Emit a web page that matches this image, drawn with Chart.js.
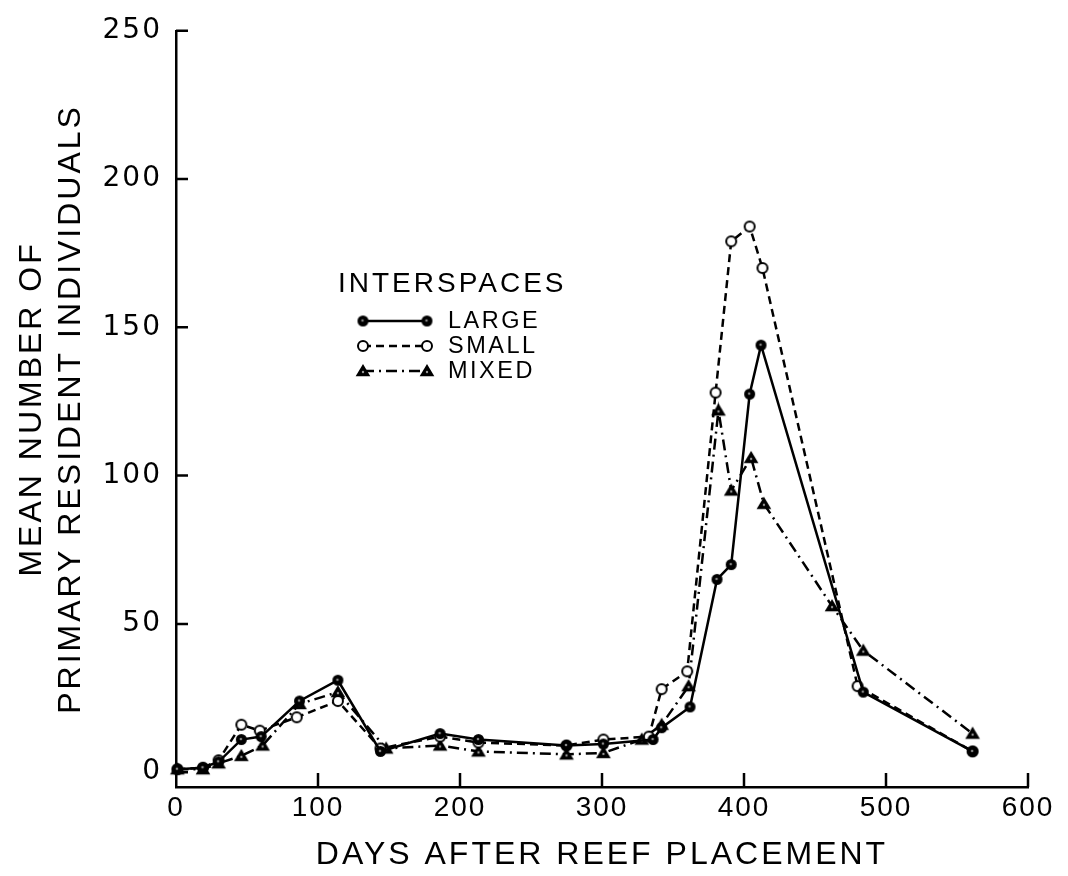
<!DOCTYPE html>
<html><head><meta charset="utf-8">
<script src="https://cdn.jsdelivr.net/npm/chart.js@4/dist/chart.umd.min.js"></script>
<style>html,body{margin:0;padding:0;background:#fff;}canvas{display:block}</style>
</head><body>
<canvas id="c" width="1068" height="876"></canvas>
<script>
// ---- data ----
const xTicks = [0, 100, 200, 300, 400, 500, 600];
const yTicks = [0, 50, 100, 150, 200, 250];

const largeDays   = [1, 19, 30, 46, 60, 87, 114, 144, 186, 213, 275, 301, 336, 342, 362, 381, 391, 404, 412, 484, 561];
const largeValues = [1, 1.5, 3.5, 11, 12, 24, 31, 7, 13, 11, 9, 9.5, 11, 15, 22, 65, 70, 127.5, 144, 27, 7];

const smallDays   = [1, 19, 30, 46, 59, 85, 114, 144, 186, 213, 275, 301, 333, 342, 360, 380, 391, 404, 413, 480, 561];
const smallValues = [1, 1.5, 4, 16, 14, 18.5, 24, 8, 12, 10, 9, 11, 12, 28, 34, 128, 179, 184, 170, 29, 7];

const mixedDays   = [1, 19, 30, 46, 61, 87, 114, 148, 186, 213, 275, 301, 328, 342, 361, 382, 391, 405, 414, 462, 484, 561];
const mixedValues = [1, 1, 3, 5.5, 9, 23, 27, 8, 9, 7, 6, 6.5, 11, 16, 29, 122, 95, 106, 90.5, 56, 41, 13];

const seriesNames = ['LARGE', 'SMALL', 'MIXED'];
const legendTitle = 'INTERSPACES';
const xTitle = 'DAYS AFTER REEF PLACEMENT';
const yTitle = ['MEAN NUMBER OF', 'PRIMARY RESIDENT INDIVIDUALS'];

// ---- marker images ----
function makeMarker(kind, r) {
  const s = Math.ceil(r * 2 + 4);
  const cv = document.createElement('canvas');
  cv.width = s; cv.height = s;
  const g = cv.getContext('2d');
  const c = s / 2;
  g.lineWidth = 2;
  g.strokeStyle = '#000';
  if (kind === 'large') {
    g.fillStyle = '#000';
    g.beginPath(); g.arc(c, c, r, 0, Math.PI * 2); g.fill();
    g.fillStyle = '#888';
    g.beginPath(); g.arc(c - 0.5, c - 0.5, 1.3, 0, Math.PI * 2); g.fill();
  } else if (kind === 'small') {
    g.fillStyle = '#fff';
    g.beginPath(); g.arc(c, c, r - 1, 0, Math.PI * 2); g.fill(); g.stroke();
  } else {
    g.fillStyle = '#000';
    g.beginPath();
    g.moveTo(c, c - r);
    g.lineTo(c + r * 1.05, c + r * 0.75);
    g.lineTo(c - r * 1.05, c + r * 0.75);
    g.closePath(); g.fill();
    g.fillStyle = '#999';
    g.beginPath(); g.arc(c, c + 1, 1.2, 0, Math.PI * 2); g.fill();
  }
  return cv;
}
const mLarge = makeMarker('large', 5.5);
const mSmall = makeMarker('small', 6);
const mMixed = makeMarker('mixed', 7);

const toXY = (d, v) => d.map((x, i) => ({ x: x, y: v[i] }));

const styles = [
  { dash: [], marker: mLarge },
  { dash: [8, 5], marker: mSmall },
  { dash: [11, 5, 2, 5], marker: mMixed }
];

// ---- plugins ----
const spacingPlugin = {
  id: 'spacing',
  beforeDraw(chart) {
    const spec = { x: { t: '3px', l: '2px' }, y: { t: '3px', l: '2px' } };
    for (const id in spec) {
      const s = chart.scales[id];
      if (!s || s._wrapped) continue;
      s._wrapped = true;
      const oT = s.drawTitle.bind(s), oL = s.drawLabels.bind(s);
      s.drawTitle = function () { const c = this.ctx; const p = c.letterSpacing; c.letterSpacing = spec[id].t; oT(); c.letterSpacing = p; };
      s.drawLabels = function (a) { const c = this.ctx; const p = c.letterSpacing; c.letterSpacing = spec[id].l; oL(a); c.letterSpacing = p; };
    }
  }
};

const inwardTicks = {
  id: 'inwardTicks',
  afterDatasetsDraw(chart) {
    const ctx = chart.ctx, xs = chart.scales.x, ys = chart.scales.y;
    ctx.save();
    ctx.strokeStyle = '#000';
    ctx.lineWidth = 2.5;
    ctx.beginPath();
    yTicks.forEach(v => {
      const py = ys.getPixelForValue(v);
      ctx.moveTo(xs.left, py); ctx.lineTo(xs.left + 12, py);
    });
    xTicks.forEach(v => {
      if (v === 0) return;
      const px = xs.getPixelForValue(v);
      ctx.moveTo(px, ys.bottom); ctx.lineTo(px, ys.bottom - 14);
    });
    ctx.stroke();
    ctx.restore();
  }
};

const customLegend = {
  id: 'customLegend',
  afterDraw(chart) {
    const ctx = chart.ctx;
    ctx.save();
    ctx.fillStyle = '#000';
    ctx.textBaseline = 'middle';
    ctx.textAlign = 'left';
    ctx.letterSpacing = '3px';
    ctx.font = '28px "Liberation Sans", Arial, sans-serif';
    ctx.fillText(legendTitle, 338, 284);
    ctx.font = '23.5px "Liberation Sans", Arial, sans-serif';
    ctx.letterSpacing = '2.5px';
    const rows = [321, 346, 371];
    chart.data.datasets.forEach((ds, i) => {
      const y = rows[i];
      const x0 = 363, x1 = 427;
      ctx.save();
      ctx.strokeStyle = '#000';
      ctx.lineWidth = 2.5;
      ctx.setLineDash(styles[i].dash);
      ctx.beginPath(); ctx.moveTo(x0, y); ctx.lineTo(x1, y); ctx.stroke();
      ctx.restore();
      const m = styles[i].marker;
      ctx.drawImage(m, x0 - m.width / 2, y - m.height / 2);
      ctx.drawImage(m, x1 - m.width / 2, y - m.height / 2);
      ctx.fillText(ds.label, 448, y + 1);
    });
    ctx.restore();
  }
};

const dataSets = [
  toXY(largeDays, largeValues),
  toXY(smallDays, smallValues),
  toXY(mixedDays, mixedValues)
];

new Chart(document.getElementById('c'), {
  type: 'line',
  data: {
    datasets: dataSets.map((d, i) => ({
      label: seriesNames[i],
      data: d,
      borderColor: '#000',
      borderWidth: 2.5,
      borderDash: styles[i].dash,
      pointStyle: styles[i].marker,
      pointRadius: 6,
      tension: 0,
      fill: false,
      clip: false
    }))
  },
  options: {
    responsive: false,
    animation: false,
    layout: { padding: { top: 24, right: 40, bottom: 0, left: 0 } },
    plugins: { legend: { display: false }, tooltip: { enabled: false } },
    scales: {
      x: {
        type: 'linear', min: 0, max: 600,
        afterFit(s) { s.height = 89; },
        afterBuildTicks(s) { s.ticks = xTicks.map(v => ({ value: v })); },
        grid: { display: false, drawTicks: false },
        border: { display: true, color: '#000', width: 2.5 },
        ticks: {
          color: '#000', padding: 4,
          font: { family: '"Liberation Sans", Arial, sans-serif', size: 28 },
          callback: v => String(v), maxRotation: 0, autoSkip: false
        },
        title: {
          display: true, text: xTitle, color: '#000',
          font: { family: '"Liberation Sans", Arial, sans-serif', size: 32, lineHeight: 1.2 },
          padding: { top: 0, bottom: 2 }
        }
      },
      y: {
        type: 'linear', min: -5, max: 250,
        afterFit(s) { s.width = 176; },
        afterBuildTicks(s) { s.ticks = yTicks.map(v => ({ value: v })); },
        grid: { display: false, drawTicks: false },
        border: { display: true, color: '#000', width: 2.5 },
        ticks: {
          color: '#000', padding: 14,
          font: { family: '"DejaVu Sans", sans-serif', size: 28 },
          callback: v => String(v), autoSkip: false
        },
        title: {
          display: true, text: yTitle, color: '#000',
          font: { family: '"Liberation Sans", Arial, sans-serif', size: 32, lineHeight: 1.22 },
          padding: { top: 13, bottom: 0 }
        }
      }
    }
  },
  plugins: [spacingPlugin, inwardTicks, customLegend]
});
</script>
</body></html>
